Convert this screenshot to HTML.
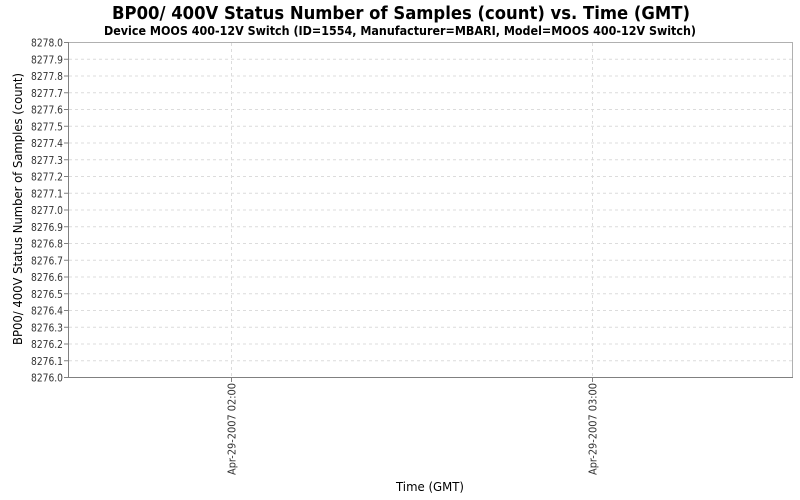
<!DOCTYPE html>
<html><head><meta charset="utf-8"><style>
html,body{margin:0;padding:0;background:#fff;}
svg{display:block;font-family:"DejaVu Sans","Liberation Sans",sans-serif;}
</style></head><body>
<svg width="800" height="500" viewBox="0 0 800 500" xmlns="http://www.w3.org/2000/svg">
<rect width="800" height="500" fill="#fff"/>
<text x="112" y="19" textLength="578" lengthAdjust="spacingAndGlyphs" font-size="18" font-weight="bold" fill="#000">BP00/ 400V Status Number of Samples (count) vs. Time (GMT)</text>
<text x="104" y="35" textLength="592" lengthAdjust="spacingAndGlyphs" font-size="12" font-weight="bold" fill="#000">Device MOOS 400-12V Switch (ID=1554, Manufacturer=MBARI, Model=MOOS 400-12V Switch)</text>
<rect x="68.5" y="42.5" width="724" height="335" fill="#fff" stroke="#b0b0b0" stroke-width="1"/>
<g stroke="#dcdcdc" stroke-width="1" stroke-dasharray="3,3">
<line x1="69" x2="792" y1="59.25" y2="59.25"/><line x1="69" x2="792" y1="76" y2="76"/><line x1="69" x2="792" y1="92.75" y2="92.75"/><line x1="69" x2="792" y1="109.5" y2="109.5"/><line x1="69" x2="792" y1="126.25" y2="126.25"/><line x1="69" x2="792" y1="143" y2="143"/><line x1="69" x2="792" y1="159.75" y2="159.75"/><line x1="69" x2="792" y1="176.5" y2="176.5"/><line x1="69" x2="792" y1="193.25" y2="193.25"/><line x1="69" x2="792" y1="210" y2="210"/><line x1="69" x2="792" y1="226.75" y2="226.75"/><line x1="69" x2="792" y1="243.5" y2="243.5"/><line x1="69" x2="792" y1="260.25" y2="260.25"/><line x1="69" x2="792" y1="277" y2="277"/><line x1="69" x2="792" y1="293.75" y2="293.75"/><line x1="69" x2="792" y1="310.5" y2="310.5"/><line x1="69" x2="792" y1="327.25" y2="327.25"/><line x1="69" x2="792" y1="344" y2="344"/><line x1="69" x2="792" y1="360.75" y2="360.75"/>
<line x1="231.5" x2="231.5" y1="43" y2="377"/><line x1="592.5" x2="592.5" y1="43" y2="377"/>
</g>
<line x1="68.5" x2="68.5" y1="42" y2="378" stroke="#808080"/>
<line x1="68" x2="793" y1="377.5" y2="377.5" stroke="#808080"/>
<g stroke="#808080">
<line x1="64" x2="68" y1="42.5" y2="42.5"/><line x1="64" x2="68" y1="59.25" y2="59.25"/><line x1="64" x2="68" y1="76" y2="76"/><line x1="64" x2="68" y1="92.75" y2="92.75"/><line x1="64" x2="68" y1="109.5" y2="109.5"/><line x1="64" x2="68" y1="126.25" y2="126.25"/><line x1="64" x2="68" y1="143" y2="143"/><line x1="64" x2="68" y1="159.75" y2="159.75"/><line x1="64" x2="68" y1="176.5" y2="176.5"/><line x1="64" x2="68" y1="193.25" y2="193.25"/><line x1="64" x2="68" y1="210" y2="210"/><line x1="64" x2="68" y1="226.75" y2="226.75"/><line x1="64" x2="68" y1="243.5" y2="243.5"/><line x1="64" x2="68" y1="260.25" y2="260.25"/><line x1="64" x2="68" y1="277" y2="277"/><line x1="64" x2="68" y1="293.75" y2="293.75"/><line x1="64" x2="68" y1="310.5" y2="310.5"/><line x1="64" x2="68" y1="327.25" y2="327.25"/><line x1="64" x2="68" y1="344" y2="344"/><line x1="64" x2="68" y1="360.75" y2="360.75"/><line x1="64" x2="68" y1="377.5" y2="377.5"/>
<line x1="231.5" x2="231.5" y1="378" y2="382"/><line x1="592.5" x2="592.5" y1="378" y2="382"/>
</g>
<g font-size="11" fill="#333">
<text x="31" y="46.5" textLength="32" lengthAdjust="spacingAndGlyphs">8278.0</text><text x="31" y="63.25" textLength="32" lengthAdjust="spacingAndGlyphs">8277.9</text><text x="31" y="80" textLength="32" lengthAdjust="spacingAndGlyphs">8277.8</text><text x="31" y="96.75" textLength="32" lengthAdjust="spacingAndGlyphs">8277.7</text><text x="31" y="113.5" textLength="32" lengthAdjust="spacingAndGlyphs">8277.6</text><text x="31" y="130.25" textLength="32" lengthAdjust="spacingAndGlyphs">8277.5</text><text x="31" y="147" textLength="32" lengthAdjust="spacingAndGlyphs">8277.4</text><text x="31" y="163.75" textLength="32" lengthAdjust="spacingAndGlyphs">8277.3</text><text x="31" y="180.5" textLength="32" lengthAdjust="spacingAndGlyphs">8277.2</text><text x="31" y="197.25" textLength="32" lengthAdjust="spacingAndGlyphs">8277.1</text><text x="31" y="214" textLength="32" lengthAdjust="spacingAndGlyphs">8277.0</text><text x="31" y="230.75" textLength="32" lengthAdjust="spacingAndGlyphs">8276.9</text><text x="31" y="247.5" textLength="32" lengthAdjust="spacingAndGlyphs">8276.8</text><text x="31" y="264.25" textLength="32" lengthAdjust="spacingAndGlyphs">8276.7</text><text x="31" y="281" textLength="32" lengthAdjust="spacingAndGlyphs">8276.6</text><text x="31" y="297.75" textLength="32" lengthAdjust="spacingAndGlyphs">8276.5</text><text x="31" y="314.5" textLength="32" lengthAdjust="spacingAndGlyphs">8276.4</text><text x="31" y="331.25" textLength="32" lengthAdjust="spacingAndGlyphs">8276.3</text><text x="31" y="348" textLength="32" lengthAdjust="spacingAndGlyphs">8276.2</text><text x="31" y="364.75" textLength="32" lengthAdjust="spacingAndGlyphs">8276.1</text><text x="31" y="381.5" textLength="32" lengthAdjust="spacingAndGlyphs">8276.0</text>
</g>
<g font-size="11" fill="#333">
<text transform="translate(235.5,475) rotate(-90)" textLength="92" lengthAdjust="spacingAndGlyphs">Apr-29-2007 02:00</text>
<text transform="translate(596.5,475) rotate(-90)" textLength="92" lengthAdjust="spacingAndGlyphs">Apr-29-2007 03:00</text>
</g>
<text x="396" y="491" textLength="68" lengthAdjust="spacingAndGlyphs" font-size="12" fill="#000">Time (GMT)</text>
<text transform="translate(22,345) rotate(-90)" textLength="272" lengthAdjust="spacingAndGlyphs" font-size="12" fill="#000">BP00/ 400V Status Number of Samples (count)</text>
</svg>
</body></html>
